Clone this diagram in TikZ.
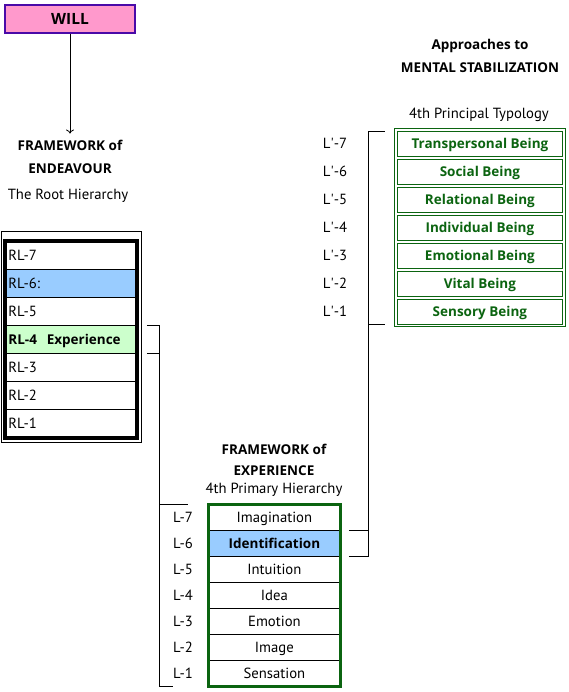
\documentclass[tikz,border=0pt]{standalone}
\usepackage{fontspec}
\setmainfont{PT Sans}
\newfontfamily\boldface{Open Sans}
\newcommand{\rowbold}{\boldface\bfseries\fontsize{13.5}{16}\selectfont}
\usetikzlibrary{
    arrows.meta,
    positioning
}

\definecolor{willpink}{HTML}{FF99CC}
\definecolor{willedge}{HTML}{4A0AA8}
\definecolor{rowblue}{HTML}{99CCFF}
\definecolor{rowgreen}{HTML}{CCFFCC}
\definecolor{darkgreen}{HTML}{0B6410}

\tikzset{
    lbl/.style={font=\fontsize{14.7}{16}\selectfont, inner sep=1pt},
    ttl/.style={font=\rowbold, inner sep=1pt},
    rootrow/.style={draw, line width=0.8pt, anchor=north west,
        minimum width=131, minimum height=28, text width=125,
        text height=12pt, text depth=1pt,
        align=left, inner sep=3pt, lbl},
    exprow/.style={draw, line width=0.8pt, anchor=north west,
        minimum width=132, minimum height=26, inner sep=1pt,
        text height=12pt, text depth=1pt, lbl},
    typerow/.style={draw=darkgreen, line width=0.8pt, anchor=north west,
        minimum width=165, minimum height=25, inner sep=1pt,
        text height=11.5pt, text depth=1.5pt,
        text=darkgreen, ttl}
}

\begin{document}
\begin{tikzpicture}[x=1pt,y=-1pt]

\useasboundingbox (0,0) rectangle (569,692);

% Will
\node[draw=willedge, line width=2.5pt, fill=willpink,
      minimum width=130, minimum height=28,
      font=\boldface\fontsize{15.5}{17}\selectfont\bfseries] (will) at (70,19) {WILL};

% Framework of endeavour
\node[ttl] (endv1) at (70,145) {FRAMEWORK of};
\node[ttl] (endv2) at (70,169) {ENDEAVOUR};
\node[lbl] (root) at (68,196) {The Root Hierarchy};

\draw[-{To[length=4pt,width=8pt]}, line width=0.8pt, shorten >=5pt]
    (will) -- (endv1);

\foreach \n/\t/\c in {7/RL-7/white, 6/RL-6:/rowblue, 5/RL-5/white,
    4/{\rowbold RL-4~~Experience}/rowgreen, 3/RL-3/white,
    2/RL-2/white, 1/RL-1/white}{
    \node[rootrow, fill=\c] (rl\n) at (5,{241+28*(7-\n)}) {\t};
}
\draw[line width=3.5pt] (rl7.north west) rectangle (rl1.south east);
\draw[line width=0.8pt]
    ([shift={(-4,-10)}]rl7.north west) rectangle ([shift={(5,5)}]rl1.south east);

% Framework of experience
\node[ttl] (exp1) at (274,449) {FRAMEWORK of};
\node[ttl] (exp2) at (274,471) {EXPERIENCE};
\node[lbl] (prim) at (274,490) {4th Primary Hierarchy};

\foreach \n/\t/\c in {7/Imagination/white,
    6/{\rowbold Identification}/rowblue,
    5/Intuition/white, 4/Idea/white, 3/Emotion/white,
    2/Image/white, 1/Sensation/white}{
    \node[exprow, fill=\c] (x\n) at (208,{504+26*(7-\n)}) {\t};
    \node[lbl, left=14pt of x\n.west] (l\n) {L-\n};
}
\draw[darkgreen, line width=3pt] (x7.north west) rectangle (x1.south east);

% RL-4 bracket
\draw[line width=0.8pt] ([xshift=10pt]rl4.north east) -- ++(13,0)
    |- ([xshift=-20pt]x7.north west);
\draw[line width=0.8pt] ([xshift=10pt]rl4.south east) -- ++(13,0)
    |- ([xshift=-35pt]x1.south west);

% Mental stabilization
\node[ttl] (app1) at (480,46) {Approaches to};
\node[ttl] (app2) at (480,68) {MENTAL STABILIZATION};
\node[lbl] (princ) at (479,115) {4th Principal Typology};

\foreach \n/\t in {7/Transpersonal Being, 6/Social Being, 5/Relational Being,
    4/Individual Being, 3/Emotional Being, 2/Vital Being, 1/Sensory Being}{
    \node[typerow] (t\n) at (397,{131+28*(7-\n)}) {\t};
    \node[lbl] (tl\n) at (335,{143.5+28*(7-\n)}) {L\textquotesingle-\n};
}
\draw[darkgreen, line width=0.8pt]
    ([shift={(-3,-3)}]t7.north west) rectangle ([shift={(3,2)}]t1.south east);

% Identification bracket
\draw[line width=0.8pt] ([xshift=8pt]x6.north east) -- ++(20,0)
    |- ([xshift=-12pt]t7.north west);
\draw[line width=0.8pt] ([xshift=8pt]x6.south east) -- ++(20,0)
    |- ([xshift=-12pt]t1.south west);

\end{tikzpicture}
\end{document}
